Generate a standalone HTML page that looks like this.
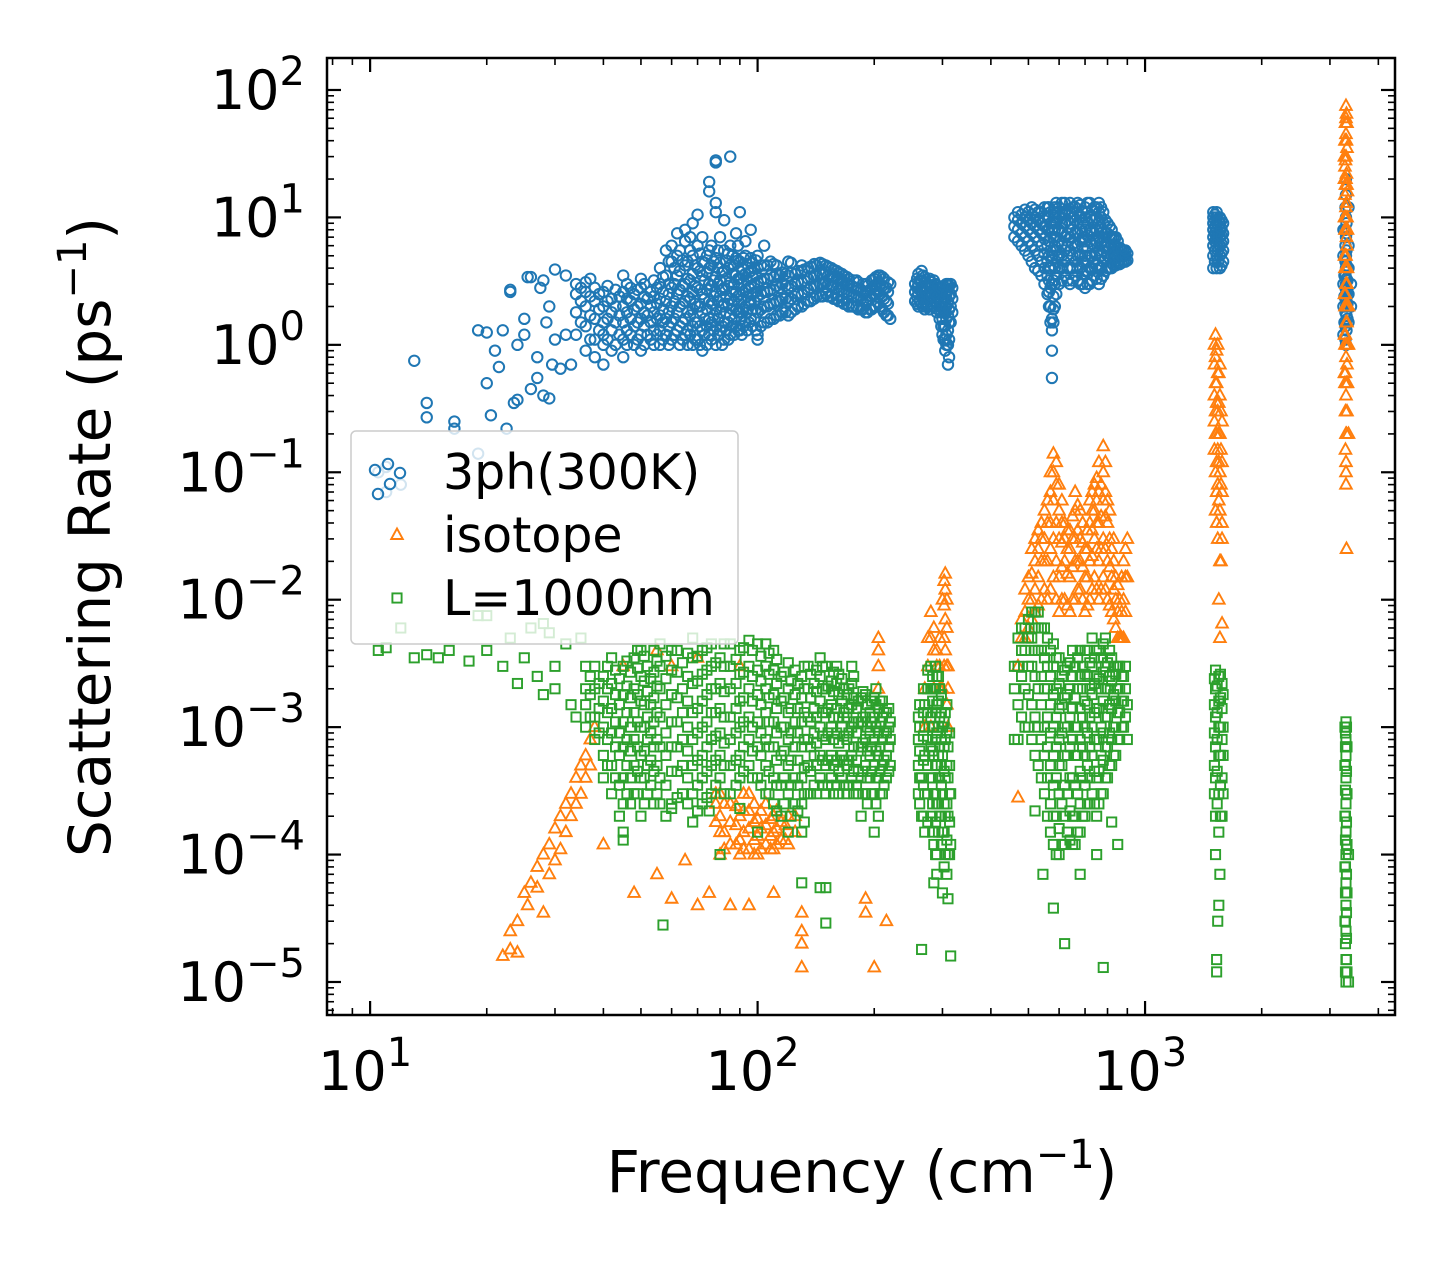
<!DOCTYPE html>
<html><head><meta charset="utf-8"><style>
html,body{margin:0;padding:0;background:#fff;}
svg{display:block;font-family:"DejaVu Sans","Liberation Sans",sans-serif;}
</style></head><body>
<svg id="chart" width="1455" height="1265" viewBox="0 0 1455 1265" xmlns="http://www.w3.org/2000/svg">
<rect x="0" y="0" width="1455" height="1265" fill="#fff"/>
<g id="marks"></g>
<g id="axes"></g>
<text transform="translate(110,537) rotate(-90)" text-anchor="middle" font-size="58">Scattering Rate (ps<tspan dy="-24" font-size="40">−1</tspan><tspan dy="24">)</tspan></text>
<text x="862" y="1192" text-anchor="middle" font-size="58">Frequency (cm<tspan dy="-24" font-size="40">−1</tspan><tspan dy="24">)</tspan></text>
<g id="legend"></g>
</svg>
<script>
// ---- data (frequency in cm^-1, rates in ps^-1), columns [freq, [rates]] ----
const blueCols = [
[10.5,[0.1]],[11,[0.11,0.07]],[12,[0.08]],[13,[0.75]],[14,[0.35,0.27]],[16.5,[0.25,0.22]],[19,[1.3,0.14]],[20,[0.5,1.25]],[20.5,[0.28]],[21,[0.9]],[21.5,[0.67]],[22,[1.3]],[22.5,[0.22]],[23,[2.7,2.6]],[23.5,[0.35]],[24,[0.37,1.0]],[25,[1.2,1.6]],[25.5,[3.4]],[26,[3.4,0.45]],[27,[0.55,0.8]],[27.5,[2.8]],[28,[3.2,0.4]],[28.5,[1.5]],[29,[0.38,2.0]],[29.5,[0.7]],[30,[1.1,3.9]],[31,[0.65]],[32,[3.5,1.2]],[33,[0.7]],
[34,[1.2,1.8,2.5,3.0]],[36,[0.9,1.4,2.0,2.6,3.1]],[38,[0.8,1.1,1.6,2.2,2.8]],[40,[0.7,1.0,1.5,2.0,2.6,1.2]],[42,[0.9,1.3,1.8,2.3]],[45,[0.8,1.1,1.5,2.0,2.6,3.5]],[48,[1.0,1.4,1.9,2.5]],[50,[0.9,1.2,1.6,2.1,2.8,3.3]],[53,[1.1,1.5,2.0,2.6]],[56,[1.0,1.3,1.7,2.3,3.0,4.0]],[58,[1.2,1.6,2.2,3.5,5.5]],[60,[1.1,1.5,2.0,2.8,4.5,6.0]],[62,[1.3,1.8,2.5,3.5,7.5,5.0]],[65,[1.2,1.6,2.2,3.0,4.2,6.5,8.0]],[68,[1.0,1.4,1.9,2.6,3.6,5.0,9.0]],[70,[1.1,1.5,2.0,2.8,4.0,6.0,10.5]],[72,[0.9,1.3,1.8,2.5,3.5,4.5,7.0]],[75,[1.2,1.6,2.2,3.0,4.0,5.5,16,19]],[78,[1.0,1.4,1.9,2.6,3.4,4.8,27,28,13,11]],[80,[1.3,1.8,2.4,3.2,4.4,7.0]],[82,[1.1,1.5,2.1,2.8,3.8,5.5,9.5]],[85,[1.2,1.7,2.3,3.1,4.2,30,6.0]],[88,[1.4,1.9,2.6,3.5,4.8,7.5]],[90,[1.3,1.8,2.5,3.3,4.5,11]],[93,[1.5,2.0,2.7,3.6,5.0,6.5]],[96,[1.6,2.2,2.9,3.8,4.8,8.0]],[100,[1.1,1.2,1.8,2.4,3.1,4.0,5.0]],[104,[1.5,2.0,2.6,3.3,4.2,6.0]],[108,[1.6,2.1,2.7,3.5,4.5]],[112,[1.7,2.2,2.9,3.6,4.2]],[116,[1.8,2.3,3.0,3.7]],[120,[1.7,2.2,2.8,3.5,4.5]],[125,[1.9,2.4,3.0,3.6]],[130,[2.0,2.5,3.1,3.8,4.2]],[135,[2.2,2.7,3.3,4.0]],[140,[2.3,2.9,3.5,4.3]],[145,[2.4,3.0,3.6,4.4]],[150,[2.5,3.1,3.7,4.2]],[155,[2.4,2.9,3.4,4.0]],[160,[2.3,2.8,3.3,3.8]],[165,[2.2,2.7,3.2,3.6]],[170,[2.1,2.6,3.0,3.4]],[175,[2.0,2.5,2.9]],[180,[2.0,2.4,2.8,3.2]],[185,[1.9,2.3,2.7]],[190,[1.8,2.2,2.6,3.0]],[195,[1.9,2.3,2.7]],[200,[2.0,2.5,2.9,3.3]],[205,[2.1,2.6,3.1,3.5]],[210,[1.9,2.4,2.9,3.4]],[215,[1.7,2.2,2.8]],[220,[1.6,3.0]],
[255,[2.2,2.6,3.0]],[260,[2.0,2.5,3.0,3.6]],[265,[2.1,2.6,3.2,3.8]],[270,[1.9,2.4,2.9,3.4]],[275,[2.0,2.5,3.0]],[280,[2.1,2.6,3.1]],[285,[2.2,2.7,3.2]],[290,[1.8,2.3,2.8]],[295,[1.6,2.0,2.5]],[300,[1.2,1.6,2.0,2.6]],[305,[0.9,1.1,1.4,1.8,2.3,2.8]],[310,[0.7,1.0,1.3,1.7,2.2,2.7,3.0]],[315,[1.5,2.0,2.5,3.0]],
[460,[7,8.5,10]],[480,[6,7.5,9,10.5]],[500,[5,6.5,8,9.5,11]],[520,[4,5.5,7,8.5,10,11.5]],[540,[3.5,4.5,6,7.5,9,11]],[560,[2.5,3.5,4.5,6,8,10,12]],[570,[1.5,2.0,2.8,4,5.5,7,9,11]],[575,[1.3,1.6,0.9,0.55,3,5,8]],[585,[2,3,4,6,8,10,12]],[600,[3,4,5,6.5,8,10,12]],[620,[3.5,4.5,5.5,7,9,11,13]],[640,[3,4,5.5,7,9,11,13]],[660,[3.5,4.5,6,7.5,9.5,12]],[680,[3,4,5,6.5,8,10,12.5]],[700,[2.8,3.8,5,6.5,8,10,12]],[720,[3,4,5,6.5,8,10,13]],[740,[3.5,4.5,6,7.5,9.5,12]],[760,[3,4,5.5,7,9,11,13]],[780,[3.5,4.5,5.5,7,9,11]],[800,[4,5,6,7.5,9]],[820,[4,5,6,7,8]],[840,[4.2,5,6,7]],[860,[4.3,5,5.8]],[880,[4.5,5,5.5]],[900,[4.6,5.2]],
[1500,[4,5,6,7,8,9,10,11]],[1530,[4,5,6,7,8,9,10,11]],[1560,[4,5,6,7,8,9,10]],[1590,[4.5,5.5,6.5,7.5,9]],
[3250,[1.2,2,3,5,8]],[3300,[1,1.5,2,2.5,3,4,5,7,10,15,20]],[3350,[1.5,2.5,4,6,12]],[3400,[2,3]]
];
const blueColsB = [
[35,[1.5,2.2,2.8]],[37,[1.1,1.7,2.4,3.3]],[39,[1.3,1.9,2.5]],[41,[1.1,1.6,2.2,2.9]],[43,[1.0,1.5,2.0,2.7]],[44,[1.2,1.7,2.4]],[46,[1.0,1.3,1.8,2.3,3.0]],[47,[1.2,1.6,2.2,2.8]],[49,[1.1,1.5,2.0,2.7]],[51,[1.0,1.4,1.8,2.4,3.0]],[52,[1.2,1.7,2.3]],[54,[1.0,1.3,1.8,2.4,3.2]],[55,[1.2,1.6,2.1,2.8]],[57,[1.1,1.5,1.9,2.6,3.4]],[59,[1.0,1.4,1.8,2.5,3.0,4.5]],[61,[1.2,1.6,2.2,3.0,4.0]],[63,[1.0,1.4,2.0,2.7,3.8,5.5]],[64,[1.1,1.5,2.1,2.9,4.6]],[66,[1.0,1.3,1.8,2.4,3.3,4.5]],[67,[1.2,1.7,2.3,3.2,5.5,7]],[69,[1.1,1.5,2.1,2.9,4.2]],[71,[1.0,1.4,2.0,2.7,3.8,5.2]],[73,[1.2,1.6,2.3,3.2,4.4]],[74,[1.0,1.4,1.9,2.7,3.7,5]],[76,[1.1,1.5,2.1,2.9,4.2,6]],[77,[1.3,1.7,2.4,3.2,4.5]],[79,[1.2,1.6,2.2,3.0,4.0,5.5]],[81,[1.0,1.4,2.0,2.7,3.7]],[83,[1.3,1.8,2.4,3.3,4.6]],[84,[1.1,1.5,2.1,2.9,4.0,5.2]],[86,[1.4,1.9,2.6,3.6,5]],[87,[1.2,1.6,2.2,3.0,4.2]],[89,[1.3,1.8,2.4,3.3,4.6,6]],[91,[1.2,1.6,2.2,3.0,4.0]],[92,[1.4,1.9,2.6,3.5,4.8]],[94,[1.3,1.8,2.4,3.2,4.3]],[95,[1.5,2.1,2.8,3.7]],[97,[1.4,1.9,2.5,3.4,4.4]],[98,[1.6,2.2,3.0,4.0]],[99,[1.3,1.9,2.6,3.5,4.6]],[102,[1.4,1.9,2.5,3.2,4.2]],[106,[1.5,2.0,2.6,3.3,4.2]],[110,[1.6,2.1,2.7,3.4,4.3]],[114,[1.7,2.2,2.8,3.5]],[118,[1.8,2.3,2.9,3.6]],[122,[1.8,2.3,2.9,3.7,4.4]],[127,[2.0,2.5,3.1,3.8]],[132,[2.1,2.6,3.2,3.9]],[137,[2.2,2.8,3.4,4.1]],[142,[2.4,2.9,3.5,4.2]],[147,[2.4,3.0,3.6,4.3]],[152,[2.4,3.0,3.5,4.1]],[157,[2.3,2.9,3.4,3.9]],[162,[2.2,2.7,3.2,3.7]],[167,[2.1,2.6,3.1,3.5]],[172,[2.0,2.5,3.0,3.3]],[177,[2.0,2.4,2.8,3.2]],[182,[1.9,2.3,2.7,3.1]],[187,[1.9,2.2,2.6,3.0]],[192,[1.8,2.2,2.6,2.9]],[197,[1.9,2.4,2.8,3.2]],[202,[2.0,2.5,2.9,3.4]],[207,[2.0,2.5,3.0,3.5]],[212,[1.8,2.3,2.8,3.3]],[217,[1.7,2.1,2.6,3.1]],
[258,[2.1,2.4,2.8,3.3]],[262,[2.2,2.7,3.2]],[267,[2.0,2.3,2.8,3.5]],[272,[2.1,2.6,3.1]],[278,[1.9,2.3,2.8,3.3]],[282,[2.0,2.4,2.9]],[288,[2.1,2.5,3.0]],[292,[1.9,2.4,2.9]],[298,[1.4,1.8,2.2,2.8]],[302,[1.1,1.4,1.8,2.3,2.9]],[307,[1.0,1.2,1.6,2.0,2.5,3.0]],[312,[0.8,1.1,1.5,1.9,2.4,2.9]],[318,[1.8,2.3,2.8]],
[470,[6.5,8,9.5,11]],[490,[5.5,7,8.5,10,11.5]],[510,[4.5,6,7.5,9,10.5,12]],[530,[3.8,5,6.5,8,9.5,11]],[550,[3,4,5.2,6.8,8.5,10,12]],[565,[2,2.6,3.2,4,5,6.5,8,10,12]],[580,[1.5,1.9,2.4,3.2,4.2,5.5,7,9,11]],[590,[2.5,3.5,4.5,5.5,7,9,11,13]],[610,[3.2,4,5,6,7.5,9,11,13]],[630,[3.2,4,5,6,7.5,9.5,11.5]],[650,[3.2,4,5,6.2,8,10,12]],[670,[3.2,4,5,6,7.5,9,11,13]],[690,[3,3.6,4.5,5.7,7,9,11]],[710,[3,3.8,4.6,5.8,7.2,9,11,13]],[730,[3.2,4,5,6.2,7.8,9.5,11.5]],[750,[3.3,4.2,5.2,6.5,8,10,12]],[770,[3.3,4,5,6.2,8,10,12]],[790,[3.8,4.8,6,7.5,9.5]],[810,[4,4.8,5.8,7,8.5]],[830,[4.2,5,6,7]],[850,[4.3,5,5.8,6.5]],[870,[4.4,5,5.6]],[890,[4.5,5,5.5]],
[1515,[4.5,5.5,6.5,7.5,8.5,9.5,10.5]],[1545,[4.5,5.5,6.5,7.5,8.5,9.5]],[1575,[4.2,5.2,6.2,7.2,8.2,9.5]],
[3270,[1.5,2.4,3.5]],[3290,[1.1,1.4,1.8,2.3,2.8,3.5,4.5,6,8,12]],[3310,[1.3,1.7,2.2,2.7,3.3,4.2,5.5,7.5,9]],[3330,[1.6,2.1,2.6,3.2,4]]
];
const orangeCols = [
[22,[1.6e-5]],[23,[1.8e-5,2.5e-5]],[24,[1.7e-5,3e-5]],[25,[5e-5]],[25.5,[4e-5]],[26,[6e-5]],[27,[8e-5,5.5e-5]],[28,[1e-4,3.5e-5]],[29,[1.2e-4,7e-5]],[30,[1.6e-4,9e-5]],[31,[2e-4,1.1e-4]],[32,[2.5e-4,1.5e-4]],[33,[3e-4,2e-4]],[34,[4e-4,2.5e-4]],[35,[5e-4,3e-4]],[36,[6e-4,4e-4]],[37,[8e-4,5e-4]],[38,[1e-3]],
[40,[1.2e-4]],[45,[3e-3]],[48,[5e-5]],[55,[7e-5,4e-3]],[60,[4.5e-5,3e-3]],[65,[9e-5]],[70,[4e-5,3.5e-3]],[75,[5e-5]],
[80,[1e-4,1.5e-4,2e-4,3e-4]],[85,[4e-5,1.2e-4,1.8e-4,2.5e-4]],[90,[1e-4,1.3e-4,2e-4,3e-3]],[95,[4e-5,1.1e-4,1.6e-4,2.2e-4,3e-4]],[100,[1e-4,1.4e-4,1.9e-4]],[105,[1.2e-4,1.7e-4,2.5e-4]],[110,[5e-5,1.1e-4,1.5e-4,2e-4]],[115,[1.3e-4,1.8e-4]],[120,[1.2e-4,2e-4]],
[130,[3.5e-5,2.5e-5,1.3e-5,2e-5]],[190,[4.5e-5,3.5e-5]],[200,[1.3e-5]],[205,[2e-3,3e-3,4e-3,5e-3]],[215,[3e-5]],
[270,[1e-3,2e-3]],[275,[3e-3,5e-3]],[280,[5e-3,8e-3,1e-3]],[290,[3e-3,4e-3]],[298,[2e-3]],[300,[2e-3,1e-2]],[305,[4e-3,7e-3,1.2e-2,1.6e-2]],[310,[2e-3,3e-3,1e-3]],
[470,[3e-3,2.8e-4]],[480,[5e-3,7e-3]],[500,[6e-3,1e-2,1.5e-2]],[520,[8e-3,1.2e-2,2e-2,3e-2]],[540,[1e-2,2e-2,3e-2,4e-2]],[560,[1e-2,2e-2,4e-2,6e-2]],[580,[1.5e-2,3e-2,6e-2,1e-1,1.4e-1]],[600,[8e-3,1.5e-2,3e-2,5e-2,8e-2]],[620,[1e-2,2e-2,3e-2,4e-2]],[640,[8e-3,1.5e-2,2.5e-2,3.5e-2]],[660,[1e-2,2e-2,3e-2,5e-2,7e-2]],[680,[1.2e-2,2e-2,3e-2,5e-2]],[700,[8e-3,1.5e-2,2.5e-2]],[720,[1e-2,2e-2,4e-2,6e-2]],[740,[1.5e-2,3e-2,5e-2,8e-2]],[760,[1e-2,2e-2,4e-2,7e-2,1.2e-1]],[780,[1.5e-2,3e-2,6e-2,1e-1,1.6e-1]],[800,[1e-2,2e-2,4e-2,6e-2]],[820,[8e-3,1.5e-2,2.5e-2]],[840,[6e-3,1e-2,1.5e-2]],[860,[5e-3,1e-2]],[880,[5e-3,1e-2,2e-2]],[900,[1.5e-2,3e-2]],
[1520,[0.05,0.1,0.2,0.3,0.5,0.8,1.2]],[1540,[0.03,0.08,0.15,0.3,0.6,1.0]],[1550,[1e-2]],[1560,[5e-3,0.02,0.05,0.1,0.2,0.4,0.7]],[1570,[2e-2]],[1580,[6.5e-3,3e-2,0.04,0.07,0.12,0.25]],
[3280,[0.5,1,2,4,8,15,25,40]],[3290,[0.15]],[3300,[0.08,0.12,0.1,0.2,0.4,0.8,1.5,3,5,8,12,20,30,45,60,75]],[3310,[0.025]],[3320,[0.3,0.7,1.5,3,6,10,18,35,55]],[3350,[0.2,1,2]]
];
const orangeColsB = [
[78,[1.8e-4,2.5e-4,3e-4]],[82,[1.1e-4,1.5e-4,2.5e-4]],[88,[1.2e-4,1.7e-4,2.4e-4]],[92,[1.1e-4,1.5e-4,2.2e-4,3e-4]],[98,[1e-4,1.3e-4,1.8e-4,2.5e-4]],[102,[1.1e-4,1.6e-4,2.2e-4]],[108,[1.1e-4,1.4e-4,1.9e-4]],[112,[1.2e-4,1.6e-4,2.2e-4]],[118,[1.3e-4,1.7e-4]],[125,[1.5e-4,2e-4]],
[285,[2e-3,4e-3,6e-3]],[295,[2e-3,3e-3,5e-3]],[303,[3e-3,5e-3,9e-3,1.4e-2]],[308,[1.5e-3,3e-3,6e-3,1e-2]],
[490,[5e-3,8e-3,1.2e-2]],[510,[7e-3,1e-2,1.6e-2,2.5e-2]],[530,[9e-3,1.5e-2,2.5e-2,3.5e-2]],[550,[1.2e-2,2e-2,3e-2,5e-2]],[570,[1.2e-2,2.5e-2,4e-2,7e-2,1e-1]],[590,[1e-2,2e-2,4e-2,8e-2,1.2e-1]],[610,[1e-2,1.8e-2,2.8e-2,4e-2,6e-2]],[630,[9e-3,1.6e-2,2.5e-2,3.5e-2]],[650,[1e-2,1.8e-2,3e-2,4.5e-2]],[670,[1.2e-2,2e-2,3.5e-2,5.5e-2]],[690,[1e-2,1.8e-2,2.8e-2,4e-2]],[710,[9e-3,1.5e-2,2.5e-2,3.5e-2]],[730,[1.2e-2,2.2e-2,3.5e-2,5e-2,7e-2]],[750,[1.2e-2,2.5e-2,4e-2,6e-2,9e-2]],[770,[1.2e-2,2.5e-2,4.5e-2,8e-2]],[790,[1.2e-2,2.5e-2,4.5e-2,7e-2,1.2e-1]],[810,[9e-3,1.8e-2,3e-2,5e-2]],[830,[7e-3,1.2e-2,2e-2,3e-2]],[850,[5e-3,8e-3,1.3e-2]],[870,[5e-3,8e-3,1.5e-2]],[890,[8e-3,1.5e-2,2.5e-2]],
[1510,[0.15,0.25,0.4,0.7,1]],[1530,[0.04,0.07,0.12,0.2,0.35,0.5,0.9]],[1550,[0.06,0.12,0.2,0.35,0.6]],[1570,[0.08,0.15,0.3]],
[3270,[0.6,1.2,2.5,5,10,20,30]],[3290,[0.3,0.6,1.2,2.5,5,10,18,28,40,55]],[3310,[0.2,0.5,1,2,4,7,13,22,40,65]],[3330,[0.5,1,2,4,8,16]]
];
const greenCols = [
[10.5,[4e-3]],[11,[4.2e-3]],[12,[6e-3]],[13,[3.5e-3]],[14,[3.7e-3]],[15,[3.5e-3]],[16,[4e-3]],[18,[3.3e-3]],[19,[7.5e-3]],[20,[4e-3,7.5e-3]],[22,[3e-3]],[23,[5e-3]],[24,[2.2e-3]],[25,[3.5e-3]],[26,[6e-3]],[27,[2.5e-3]],[28,[6.5e-3,1.8e-3]],[29,[5.5e-3]],[30,[3e-3,2e-3]],[32,[4.5e-3]],[33,[1.5e-3]],[34,[1.2e-3]],[35,[5e-3]],
[36,[1e-3,1.5e-3,2e-3,3e-3]],[38,[8e-4,1.2e-3,2e-3,3e-3]],[40,[4e-4,6e-4,1e-3,1.6e-3,2.5e-3]],[42,[3e-4,5e-4,9e-4,1.4e-3,2.2e-3,3.5e-3]],[45,[1.3e-4,1.5e-4,2.5e-4,4e-4,7e-4,1.1e-3,1.8e-3,3e-3]],[48,[3e-4,5e-4,8e-4,1.3e-3,2e-3,3.5e-3]],[50,[2e-4,4e-4,6e-4,1e-3,1.6e-3,2.5e-3,4e-3]],[53,[3.5e-4,5.5e-4,9e-4,1.5e-3,2.4e-3]],[56,[2.5e-4,4e-4,7e-4,1.2e-3,2e-3,3e-3,4.5e-3]],[57,[2.8e-5]],[60,[2.3e-4,2.5e-4,4.5e-4,7e-4,1.1e-3,1.8e-3,2.8e-3,4e-3]],[64,[3e-4,5e-4,8e-4,1.3e-3,2e-3,3.2e-3]],[68,[1.8e-4,3e-4,5e-4,8e-4,1.3e-3,2.2e-3,3.5e-3,5e-3]],[72,[2.5e-4,4e-4,6e-4,1e-3,1.6e-3,2.6e-3,4e-3]],[75,[2.2e-4]],[76,[3e-4,5e-4,8e-4,1.3e-3,2e-3,3e-3,4.5e-3]],[80,[1e-4,4e-4,6e-4,9e-4,1.4e-3,2.2e-3,3.5e-3]],[85,[3e-4,5e-4,8e-4,1.2e-3,2e-3,3e-3,4.5e-3]],[90,[2.3e-4,4e-4,6e-4,1e-3,1.6e-3,2.6e-3,4e-3]],[95,[5e-4,8e-4,1.2e-3,2e-3,3e-3,4.8e-3]],[100,[1.5e-4,4e-4,7e-4,1.1e-3,1.8e-3,2.8e-3,4.5e-3]],[105,[3e-4,5e-4,8e-4,1.3e-3,2e-3,3e-3,4.5e-3]],[110,[2.5e-4,4e-4,7e-4,1.1e-3,1.8e-3,2.8e-3,4e-3]],[115,[2e-4,3.5e-4,6e-4,1e-3,1.6e-3,2.5e-3]],[120,[1.5e-4,3e-4,5e-4,8e-4,1.3e-3,2e-3,3.2e-3]],[125,[2.5e-4,4e-4,7e-4,1.1e-3,1.8e-3,2.8e-3]],[130,[6e-5,1.5e-4,2.5e-4,4e-4,7e-4,1.1e-3,1.7e-3,2.5e-3]],[135,[3e-4,5e-4,8e-4,1.2e-3,2e-3,3e-3]],[140,[3.5e-4,6e-4,9e-4,1.4e-3,2.2e-3]],[145,[5.5e-5,4e-4,6e-4,1e-3,1.6e-3,2.5e-3,3.5e-3]],[150,[2.9e-5,5.5e-5,3e-4,5e-4,8e-4,1.3e-3,2e-3,3e-3]],[155,[4e-4,6e-4,1e-3,1.5e-3,2.3e-3]],[160,[3.5e-4,5.5e-4,9e-4,1.4e-3,2.2e-3,3e-3]],[165,[4e-4,6e-4,1e-3,1.6e-3,2.4e-3]],[170,[3e-4,5e-4,8e-4,1.2e-3,1.8e-3]],[175,[4e-4,6e-4,1e-3,1.5e-3,2.2e-3,3e-3]],[180,[3.5e-4,5.5e-4,9e-4,1.4e-3]],[185,[2e-4,4e-4,7e-4,1.1e-3,1.7e-3]],[190,[3e-4,5e-4,8e-4,1.2e-3,1.8e-3]],[195,[4e-4,6e-4,9e-4,1.3e-3]],[200,[1.5e-4,3e-4,5e-4,8e-4,1.2e-3,1.7e-3]],[205,[2e-4,4e-4,6e-4,9e-4,1.4e-3]],[210,[3e-4,5e-4,8e-4,1.2e-3,1.6e-3]],[215,[4e-4,6e-4,9e-4,1.3e-3]],[220,[5e-4,8e-4,1.1e-3]],
[260,[3e-4,5e-4,8e-4,1.2e-3]],[265,[1.8e-5,2e-4,4e-4]],[270,[1.5e-4,3e-4,6e-4,1e-3,1.5e-3]],[280,[2e-4,4e-4,7e-4,1.2e-3,2e-3,3e-3]],[285,[6e-5,1.2e-4,3e-4,6e-4,1e-3,2e-3]],[290,[7e-5,1e-4,2.5e-4,5e-4,9e-4,1.5e-3,2.5e-3]],[295,[2e-4,4e-4,7e-4,1.2e-3,2e-3]],[300,[5e-5,1.5e-4,3e-4,6e-4,1e-3]],[305,[1e-4,2e-4,4e-4,8e-4,1.3e-3]],[310,[4.5e-5,1e-4,2e-4,4e-4,7e-4]],[315,[1.6e-5,1.2e-4,3e-4]],
[460,[8e-4,2e-3,3e-3]],[470,[8e-4,1.5e-3,3e-3,5e-3]],[490,[1e-3,2e-3,4e-3,6e-3]],[510,[8e-4,1.5e-3,3e-3,5e-3,8e-3]],[520,[2.2e-4]],[530,[5e-4,1e-3,2e-3,4e-3,6e-3,8e-3]],[545,[7e-5]],[550,[3e-4,6e-4,1e-3,2e-3,3.5e-3,6e-3]],[570,[1.5e-4,2.5e-4,5e-4,9e-4,1.5e-3,2.5e-3,4e-3]],[580,[3.8e-5]],[590,[1e-4,2e-4,4e-4,7e-4,1.2e-3,2e-3,3.5e-3]],[610,[1.2e-4,2.5e-4,5e-4,9e-4,1.5e-3,2.5e-3]],[620,[2e-5]],[630,[1.5e-4,3e-4,6e-4,1e-3,1.8e-3,3e-3]],[650,[1.2e-4,2e-4,4e-4,8e-4,1.4e-3,2.5e-3,4e-3]],[670,[1.5e-4,3e-4,6e-4,1e-3,2e-3,3.5e-3]],[680,[7e-5]],[690,[2e-4,4e-4,7e-4,1.2e-3,2e-3,3e-3]],[710,[2.5e-4,5e-4,9e-4,1.5e-3,2.5e-3,4e-3]],[730,[3e-4,6e-4,1e-3,1.8e-3,3e-3,5e-3]],[750,[1e-4,2e-4,4e-4,8e-4,1.4e-3,2.5e-3,4e-3]],[770,[3e-4,6e-4,1e-3,2e-3,3.5e-3]],[780,[1.3e-5]],[790,[4e-4,7e-4,1.2e-3,2e-3,3e-3,5e-3]],[810,[5e-4,9e-4,1.5e-3,2.5e-3,4e-3]],[820,[1.8e-4]],[830,[6e-4,1e-3,1.8e-3,3e-3]],[850,[1.2e-4,8e-4,1.3e-3,2e-3,3e-3]],[870,[1e-3,1.6e-3,2.5e-3]],[890,[1.2e-3,2e-3,3e-3]],[900,[8e-4,1.5e-3]],
[1520,[1e-4,2e-4,4e-4,7e-4,1.2e-3,2e-3,2.8e-3]],[1530,[1.2e-5,1.5e-5]],[1540,[3e-5]],[1550,[4e-5,1.5e-4,3e-4,6e-4,1e-3,1.6e-3,2.5e-3]],[1560,[7e-5]],[1580,[2e-4,4e-4,8e-4,1.4e-3,2.2e-3]],
[3280,[3e-5,8e-5,2e-4,5e-4,1e-3]],[3300,[1e-5,1.5e-5,2.5e-5,4e-5,6e-5,1e-4,1.5e-4,2.5e-4,4e-4,6e-4,8e-4,1.1e-3]],[3320,[1.2e-5,5e-5,1.2e-4,3e-4,7e-4]],[3350,[1e-5,1e-4]]
];
const greenColsB = [
[37,[1.2e-3,1.8e-3,2.5e-3]],[39,[9e-4,1.4e-3,2.2e-3]],[41,[5e-4,8e-4,1.3e-3,2e-3,3e-3]],[43,[4e-4,7e-4,1.1e-3,1.8e-3,2.8e-3]],[44,[2e-4,3.5e-4,6e-4,9e-4,1.5e-3,2.4e-3]],[46,[3e-4,5e-4,8e-4,1.3e-3,2.1e-3,3.3e-3]],[47,[2.5e-4,4e-4,6.5e-4,1e-3,1.7e-3,2.7e-3]],[49,[3e-4,4.5e-4,7e-4,1.1e-3,1.8e-3,2.9e-3,4e-3]],[51,[2.5e-4,4e-4,6.5e-4,1e-3,1.5e-3,2.3e-3,3.6e-3]],[52,[3e-4,5e-4,8e-4,1.2e-3,1.9e-3,3e-3]],[54,[2.5e-4,4.5e-4,7e-4,1.1e-3,1.7e-3,2.7e-3,4e-3]],[55,[3e-4,5e-4,8e-4,1.3e-3,2.1e-3,3.3e-3]],[58,[2e-4,3.5e-4,6e-4,9e-4,1.5e-3,2.4e-3,3.6e-3]],[62,[2.8e-4,4.5e-4,7e-4,1.1e-3,1.7e-3,2.7e-3,4e-3]],[66,[2.5e-4,4e-4,6.5e-4,1e-3,1.6e-3,2.5e-3,3.8e-3]],[70,[2.2e-4,3.5e-4,5.5e-4,9e-4,1.4e-3,2.3e-3,3.6e-3]],[74,[2.8e-4,4.5e-4,7e-4,1.1e-3,1.8e-3,2.8e-3,4.2e-3]],[78,[3.5e-4,5.5e-4,8.5e-4,1.3e-3,2e-3,3.2e-3]],[82,[3e-4,5e-4,7.5e-4,1.2e-3,1.9e-3,3e-3,4.5e-3]],[88,[3.5e-4,5.5e-4,9e-4,1.4e-3,2.2e-3,3.4e-3]],[92,[4.5e-4,7e-4,1.1e-3,1.7e-3,2.7e-3,4.2e-3]],[97,[4e-4,6.5e-4,1e-3,1.6e-3,2.5e-3,4e-3]],[102,[3.5e-4,6e-4,9e-4,1.5e-3,2.3e-3,3.6e-3]],[107,[3e-4,4.5e-4,7e-4,1.1e-3,1.7e-3,2.6e-3,3.8e-3]],[112,[2.2e-4,3.5e-4,5.5e-4,9e-4,1.4e-3,2.2e-3,3.4e-3]],[117,[2.5e-4,4e-4,6.5e-4,1e-3,1.7e-3,2.7e-3]],[122,[2e-4,3.5e-4,5.5e-4,9e-4,1.4e-3,2.3e-3]],[127,[2.2e-4,3.5e-4,5.5e-4,9e-4,1.4e-3,2.2e-3]],[132,[1.8e-4,3e-4,4.8e-4,8e-4,1.3e-3,2e-3,3e-3]],[137,[3e-4,4.5e-4,7e-4,1.1e-3,1.7e-3,2.6e-3]],[142,[3e-4,5e-4,7.5e-4,1.2e-3,1.9e-3,2.8e-3]],[147,[3.5e-4,5.5e-4,8.5e-4,1.3e-3,2e-3,3e-3]],[152,[3.5e-4,5.5e-4,9e-4,1.4e-3,2.1e-3]],[157,[3e-4,5e-4,8e-4,1.2e-3,1.9e-3,2.7e-3]],[162,[3e-4,4.5e-4,7.5e-4,1.2e-3,1.8e-3,2.6e-3]],[167,[3.5e-4,5.5e-4,8.5e-4,1.3e-3,2e-3]],[172,[3.5e-4,5.5e-4,9e-4,1.4e-3,2e-3]],[177,[3e-4,4.5e-4,7e-4,1.1e-3,1.7e-3,2.5e-3]],[182,[3e-4,4.5e-4,7e-4,1.1e-3,1.6e-3]],[187,[3e-4,4.5e-4,7.5e-4,1.2e-3,1.9e-3]],[192,[2.5e-4,4e-4,6.5e-4,1e-3,1.5e-3]],[197,[3e-4,4.5e-4,7e-4,1.1e-3,1.6e-3]],[202,[2.5e-4,4e-4,6.5e-4,1e-3,1.5e-3,2e-3]],[207,[3e-4,4.5e-4,7e-4,1.1e-3,1.6e-3]],[212,[3.5e-4,5.5e-4,9e-4,1.3e-3]],[218,[4.5e-4,7e-4,1e-3,1.4e-3]],
[262,[2.5e-4,4e-4,6.5e-4,1e-3,1.5e-3]],[268,[2e-4,3.5e-4,5.5e-4,8.5e-4,1.3e-3,2e-3]],[275,[1.8e-4,3e-4,5e-4,8e-4,1.3e-3,2e-3,2.8e-3]],[283,[1.5e-4,2.5e-4,4e-4,6.5e-4,1e-3,1.6e-3,2.5e-3]],[288,[1e-4,1.8e-4,3e-4,5e-4,8e-4,1.3e-3,2e-3,3e-3]],[293,[1.5e-4,2.5e-4,4e-4,6e-4,1e-3,1.6e-3,2.5e-3]],[298,[1.2e-4,2e-4,3.5e-4,5e-4,8e-4,1.3e-3,1.8e-3]],[303,[8e-5,1.5e-4,2.5e-4,4.5e-4,7e-4,1.1e-3]],[308,[7e-5,1.3e-4,2.5e-4,5e-4,9e-4,1.5e-3]],[313,[1e-4,1.8e-4,3e-4,5e-4,9e-4]],
[480,[1.2e-3,2.5e-3,4e-3,6e-3]],[500,[1e-3,1.8e-3,3e-3,5e-3,7e-3]],[520,[6e-4,1.2e-3,2.5e-3,4e-3,6e-3,8e-3]],[540,[4e-4,8e-4,1.5e-3,2.5e-3,4e-3,6e-3]],[560,[2e-4,4e-4,7e-4,1.2e-3,2e-3,3e-3,5e-3]],[580,[1.2e-4,2e-4,3.5e-4,6e-4,1e-3,1.8e-3,3e-3,4.5e-3]],[600,[1e-4,1.6e-4,3e-4,5e-4,8e-4,1.4e-3,2.2e-3,3.5e-3]],[620,[1.2e-4,2e-4,3.5e-4,6e-4,1e-3,1.7e-3,2.8e-3]],[640,[1.3e-4,2.2e-4,4e-4,7e-4,1.2e-3,2e-3,3.2e-3]],[660,[1.2e-4,2e-4,3.5e-4,6e-4,1e-3,1.7e-3,3e-3]],[680,[1.5e-4,2.5e-4,4.5e-4,8e-4,1.4e-3,2.5e-3,4e-3]],[700,[2e-4,3.5e-4,6e-4,1e-3,1.6e-3,2.6e-3,4e-3]],[720,[2.5e-4,4e-4,7e-4,1.2e-3,2e-3,3.2e-3]],[740,[2.5e-4,4.5e-4,8e-4,1.3e-3,2.2e-3,3.5e-3]],[760,[2.5e-4,4.5e-4,8e-4,1.4e-3,2.4e-3,4e-3]],[780,[3e-4,5.5e-4,9e-4,1.6e-3,2.7e-3,4.5e-3]],[800,[4e-4,7e-4,1.2e-3,2e-3,3.2e-3]],[820,[5e-4,8e-4,1.4e-3,2.3e-3,3.5e-3]],[840,[6e-4,1e-3,1.6e-3,2.6e-3]],[860,[8e-4,1.3e-3,2e-3,3e-3]],[880,[1e-3,1.6e-3,2.5e-3]],
[1510,[3e-4,5e-4,9e-4,1.5e-3,2.4e-3]],[1535,[2.5e-4,4.5e-4,8e-4,1.3e-3,2.1e-3]],[1565,[2e-4,3.5e-4,6e-4,1e-3,1.7e-3,2.6e-3]],[1590,[3e-4,6e-4,1e-3,1.8e-3]],
[3290,[1.2e-5,2e-5,3e-5,5e-5,8e-5,1.3e-4,2e-4,3.2e-4,5e-4,7e-4,9e-4]],[3310,[1.5e-5,2.2e-5,3.5e-5,7e-5,1.1e-4,1.8e-4,3e-4,4.5e-4,7e-4,1e-3]]
];
const xTickExps = [1, 2, 3];
const yTickExps = [2, 1, 0, -1, -2, -3, -4, -5];
const legendLabels = ["3ph(300K)", "isotope", "L=1000nm"];

// ---- axes ----
const L = 327, R = 1395, T = 58, B = 1015;
const XMIN = Math.log10(7.74), XMAX = Math.log10(4416);
const YMIN = -5.259, YMAX = 2.251;
function xs(v){ return L + (Math.log10(v) - XMIN) / (XMAX - XMIN) * (R - L); }
function ys(v){ return B - (Math.log10(v) - YMIN) / (YMAX - YMIN) * (B - T); }

const NS = "http://www.w3.org/2000/svg";
function mk(tag, attrs, parent){ const e = document.createElementNS(NS, tag); for (const k in attrs) e.setAttribute(k, attrs[k]); parent.appendChild(e); return e; }

const BLUE = "#1f77b4", ORANGE = "#ff7f0e", GREEN = "#2ca02c";
function circle(g, x, y){ return mk("circle", {cx:x, cy:y, r:5.2, fill:"none", stroke:BLUE, "stroke-width":2}, g); }
function tri(g, x, y){ return mk("polygon", {points:`${x},${y-6.5} ${x-5.8},${y+4} ${x+5.8},${y+4}`, fill:"none", stroke:ORANGE, "stroke-width":1.9}, g); }
function sq(g, x, y){ return mk("rect", {x:x-4.6, y:y-4.6, width:9.2, height:9.2, fill:"none", stroke:GREEN, "stroke-width":1.9}, g); }

const marks = document.getElementById("marks");
const series = [[blueCols.concat(blueColsB), circle, "series-3ph"], [orangeCols.concat(orangeColsB), tri, "series-isotope"], [greenCols.concat(greenColsB), sq, "series-boundary"]];
series.forEach(([cols, fn, nm]) => {
  const g = mk("g", {}, marks);
  
  
  cols.forEach(([f, vals]) => vals.forEach(v => {
    const el = fn(g, xs(f), ys(v));
    
    
  }));
});

// ---- frame & ticks ----
const axes = document.getElementById("axes");
const frame = mk("rect", {x:L, y:T, width:R-L, height:B-T, fill:"none", stroke:"#000", "stroke-width":2.5}, axes);


function tickX(x, len, w){
  mk("line", {x1:x, x2:x, y1:B, y2:B-len, stroke:"#000", "stroke-width":w}, axes);
  mk("line", {x1:x, x2:x, y1:T, y2:T+len, stroke:"#000", "stroke-width":w}, axes);
}
function tickY(y, len, w){
  mk("line", {x1:L, x2:L+len, y1:y, y2:y, stroke:"#000", "stroke-width":w}, axes);
  mk("line", {x1:R, x2:R-len, y1:y, y2:y, stroke:"#000", "stroke-width":w}, axes);
}
for (let e = 0; e <= 3; e++) for (let m = 1; m <= 9; m++) {
  const v = m * Math.pow(10, e); const x = xs(v);
  if (x < L || x > R) continue;
  if (m === 1) tickX(x, 14, 2.2); else tickX(x, 7, 1.6);
}
for (let e = -6; e <= 2; e++) for (let m = 1; m <= 9; m++) {
  const v = m * Math.pow(10, e); const y = ys(v);
  if (y < T || y > B) continue;
  if (m === 1) tickY(y, 14, 2.2); else tickY(y, 7, 1.6);
}
xTickExps.forEach(e => {
  const t = mk("text", {x:xs(Math.pow(10,e)) - 5, y:1090, "text-anchor":"middle", "font-size":54}, axes);
  
  
  t.innerHTML = `10<tspan dy="-24" font-size="40">${e}</tspan>`;
});
yTickExps.forEach(e => {
  const t = mk("text", {x:305, y:ys(Math.pow(10,e)) + 19, "text-anchor":"end", "font-size":54}, axes);
  
  
  const s = e < 0 ? "−" + (-e) : String(e);
  t.innerHTML = `10<tspan dy="-24" font-size="40">${s}</tspan>`;
});

// ---- legend ----
const lg = document.getElementById("legend");
mk("rect", {x:351, y:431, width:387, height:213, rx:5, fill:"#fff", "fill-opacity":0.8, stroke:"#cccccc", "stroke-width":1.5}, lg);
const legY = [472, 535, 598];
[[375,470],[388,464],[400,473],[378,494],[390,484]].forEach(([x,y]) => {
  const c = circle(lg, x, y);
  
  
});
const t2 = tri(lg, 397, legY[1]);


const s3 = sq(lg, 397, legY[2]);


legendLabels.forEach((lab, i) => {
  const t = mk("text", {x:443, y:legY[i] + 17, "font-size":49}, lg);
  
  
  t.textContent = lab;
});
</script>
</body></html>
